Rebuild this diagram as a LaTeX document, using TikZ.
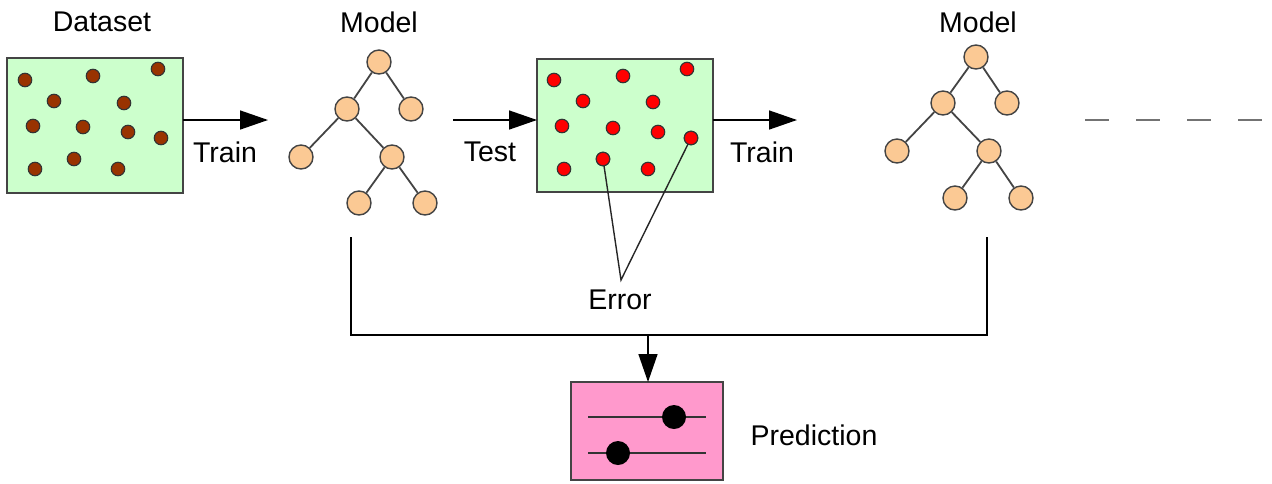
\documentclass[tikz,border=0pt]{standalone}
\usepackage{fontspec}
\setmainfont{Liberation Sans}
\usetikzlibrary{arrows.meta}
\definecolor{boxgreen}{HTML}{CCFFCC}
\definecolor{leafpeach}{HTML}{FBC994}
\definecolor{predpink}{HTML}{FF99CC}
\definecolor{dotbrown}{HTML}{993300}
\definecolor{dotred}{HTML}{FF0000}
\definecolor{edgegray}{HTML}{444444}
\tikzset{
  lbl/.style={font=\fontsize{28.5}{32}\selectfont, inner sep=0pt},
  databox/.style={draw=edgegray, line width=1.8pt, fill=boxgreen},
  predbox/.style={draw=edgegray, line width=1.8pt, fill=predpink},
  tnode/.style={circle, draw=edgegray, line width=1.4pt, fill=leafpeach, minimum size=24pt, inner sep=0pt},
  tedge/.style={draw=edgegray, line width=1.8pt},
  bdot/.style={circle, draw=black!80, line width=1.1pt, fill=dotbrown, minimum size=13.5pt, inner sep=0pt},
  rdot/.style={circle, draw=black!80, line width=1.1pt, fill=dotred, minimum size=13.5pt, inner sep=0pt},
  flow/.style={draw=black, line width=1.5pt, -{Triangle[length=28pt,width=19pt]}},
  wire/.style={draw=black, line width=1.5pt},
  thin/.style={draw=black!85, line width=1.4pt},
}
\begin{document}
\begin{tikzpicture}[x=1pt,y=-1pt]
\useasboundingbox (0,0) rectangle (1272,483);

% dataset
\node[lbl] (dslabel) at (102,22) {Dataset};
\draw[databox] (7,58) rectangle (183,193);
\coordinate (dsout) at (183,120);
\foreach \p [count=\i] in {(25,80),(93,76),(158,69),(54,101),(124,103),(33,126),(83,127),(128,132),(161,138),(35,169),(74,159),(118,169)}
  \node[bdot] (b\i) at \p {};

% first model
\node[lbl] (m1label) at (379,22) {Model};
\node[tnode] (a1) at (379,62) {};
\node[tnode] (a2) at (347,109) {};
\node[tnode] (a3) at (411,109) {};
\node[tnode] (a4) at (301,157) {};
\node[tnode] (a5) at (392,157) {};
\node[tnode] (a6) at (359,203) {};
\node[tnode] (a7) at (425,203) {};
\foreach \u/\v in {a1/a2,a1/a3,a2/a4,a2/a5,a5/a6,a5/a7}
  \path[tedge] (\u) -- (\v);

% train arrow 1
\coordinate (t1end) at (268,120);
\draw[flow] (dsout) -- (t1end);
\node[lbl] (train1) at (225,152) {Train};

% test box
\draw[databox] (537,59) rectangle (713,192);
\coordinate (tbin) at (537,120);
\coordinate (tbout) at (713,120);
\foreach \p [count=\i] in {(554,80),(623,76),(687,69),(583,101),(653,102),(562,126),(613,128),(658,132),(691,138),(564,169),(603,159),(648,169)}
  \node[rdot] (r\i) at \p {};

% test arrow
\coordinate (tstart) at (453,120);
\draw[flow] (tstart) -- (tbin);
\node[lbl] (testlbl) at (490,152) {Test};

% error pointers
\node[lbl] (err) at (620,300) {Error};
\coordinate (errtip) at (621,280);
\draw[thin] (r11.center) -- (errtip) -- (r9.center);
\node[rdot] at (r11) {};
\node[rdot] at (r9) {};

% train arrow 2
\coordinate (t2end) at (797,120);
\draw[flow] (tbout) -- (t2end);
\node[lbl] (train2) at (762,152) {Train};

% second model
\node[lbl] (m2label) at (978,22) {Model};
\node[tnode] (c1) at (976,57) {};
\node[tnode] (c2) at (943,103) {};
\node[tnode] (c3) at (1007,103) {};
\node[tnode] (c4) at (897,151) {};
\node[tnode] (c5) at (989,151) {};
\node[tnode] (c6) at (955,198) {};
\node[tnode] (c7) at (1021,198) {};
\foreach \u/\v in {c1/c2,c1/c3,c2/c4,c2/c5,c5/c6,c5/c7}
  \path[tedge] (\u) -- (\v);

% continuation
\coordinate (dashA) at (1085,120);
\coordinate (dashB) at (1272,120);
\draw[draw=black!55, line width=2.2pt, dash pattern=on 24pt off 27pt] (dashA) -- (dashB);

% combining wires
\coordinate (w1) at (351,237);
\coordinate (w2) at (351,335);
\coordinate (w3) at (987,335);
\coordinate (w4) at (987,237);
\coordinate (wmid) at (648,335);
\draw[wire] (w1) -- (w2) -- (w3) -- (w4);

% prediction
\draw[predbox] (571,382) rectangle (723,480);
\coordinate (pin) at (648,382);
\draw[flow] (wmid) -- (pin);
\coordinate (l1a) at (588,417);
\coordinate (l1b) at (706,417);
\coordinate (l2a) at (588,453);
\coordinate (l2b) at (706,453);
\draw[draw=black!80, line width=1.8pt] (l1a) -- (l1b);
\draw[draw=black!80, line width=1.8pt] (l2a) -- (l2b);
\node[circle, fill=black, minimum size=24pt, inner sep=0pt] (k1) at (674,417) {};
\node[circle, fill=black, minimum size=24pt, inner sep=0pt] (k2) at (618,453) {};
\node[lbl] (predlbl) at (814,435) {Prediction};
\end{tikzpicture}
\end{document}
